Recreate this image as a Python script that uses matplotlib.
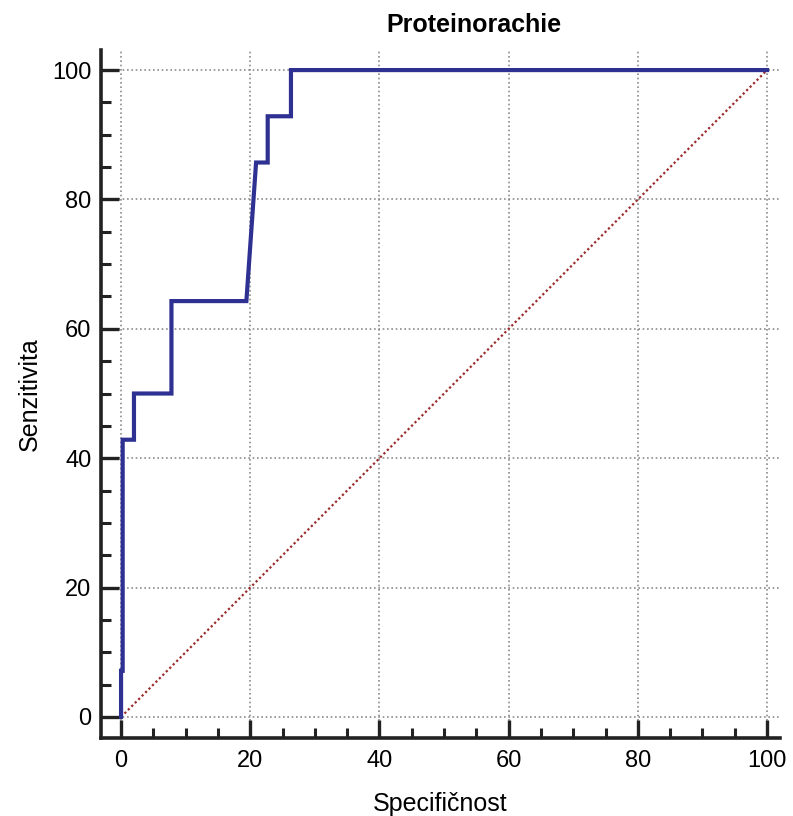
import matplotlib
matplotlib.use("Agg")
import matplotlib.pyplot as plt
from matplotlib.ticker import MultipleLocator

plt.rcParams["font.family"] = ["Liberation Sans", "DejaVu Sans"]

# ROC curve points (100 - specificity, sensitivity), in %
fpr = [0, 0, 0.25, 0.25, 2.0, 2.0, 7.8, 7.8, 19.4, 20.9, 22.7, 22.7, 26.3, 26.3, 100]
tpr = [0, 7.14, 7.14, 42.86, 42.86, 50, 50, 64.29, 64.29, 85.71, 85.71, 92.86, 92.86, 100, 100]
diag = [0, 100]

fig = plt.figure(figsize=(7.93, 8.16), dpi=100)
ax = fig.add_axes([0.1274, 0.0956, 0.8562, 0.8431])

ax.plot(diag, diag, linestyle=(0, (1, 1.2)), color="#9b2a2a", linewidth=1.6, zorder=2)
ax.plot(fpr, tpr, color="#2e3192", linewidth=3, solid_joinstyle="miter", zorder=3)

ax.set_xlim(-3.1, 102)
ax.set_ylim(-3.25, 103.1)
ax.xaxis.set_minor_locator(MultipleLocator(5))
ax.yaxis.set_minor_locator(MultipleLocator(5))
ax.set_xticks(range(0, 101, 20))
ax.set_yticks(range(0, 101, 20))

ax.grid(True, which="major", linestyle=(0, (1, 1.6)), color="#8c8c8c", linewidth=1.2, zorder=1)

for s in ["top", "right"]:
    ax.spines[s].set_visible(False)
for s in ["left", "bottom"]:
    ax.spines[s].set_linewidth(2.6)
    ax.spines[s].set_color("#222222")

ax.tick_params(which="major", direction="in", length=13, width=2.4, color="#222222",
               labelsize=17, pad=7)
ax.tick_params(which="minor", direction="in", length=7, width=2.2, color="#222222")
ax.tick_params(axis="x", which="major", pad=9)

ax.set_xlabel("Specifičnost", fontsize=18, labelpad=14)
ax.set_ylabel("Senzitivita", fontsize=18, labelpad=7)
fig.text(0.598, 0.969, "Proteinorachie", fontsize=18, fontweight="bold",
         ha="center", va="center")

fig.savefig("out.png", dpi=100)
plt.close(fig)
